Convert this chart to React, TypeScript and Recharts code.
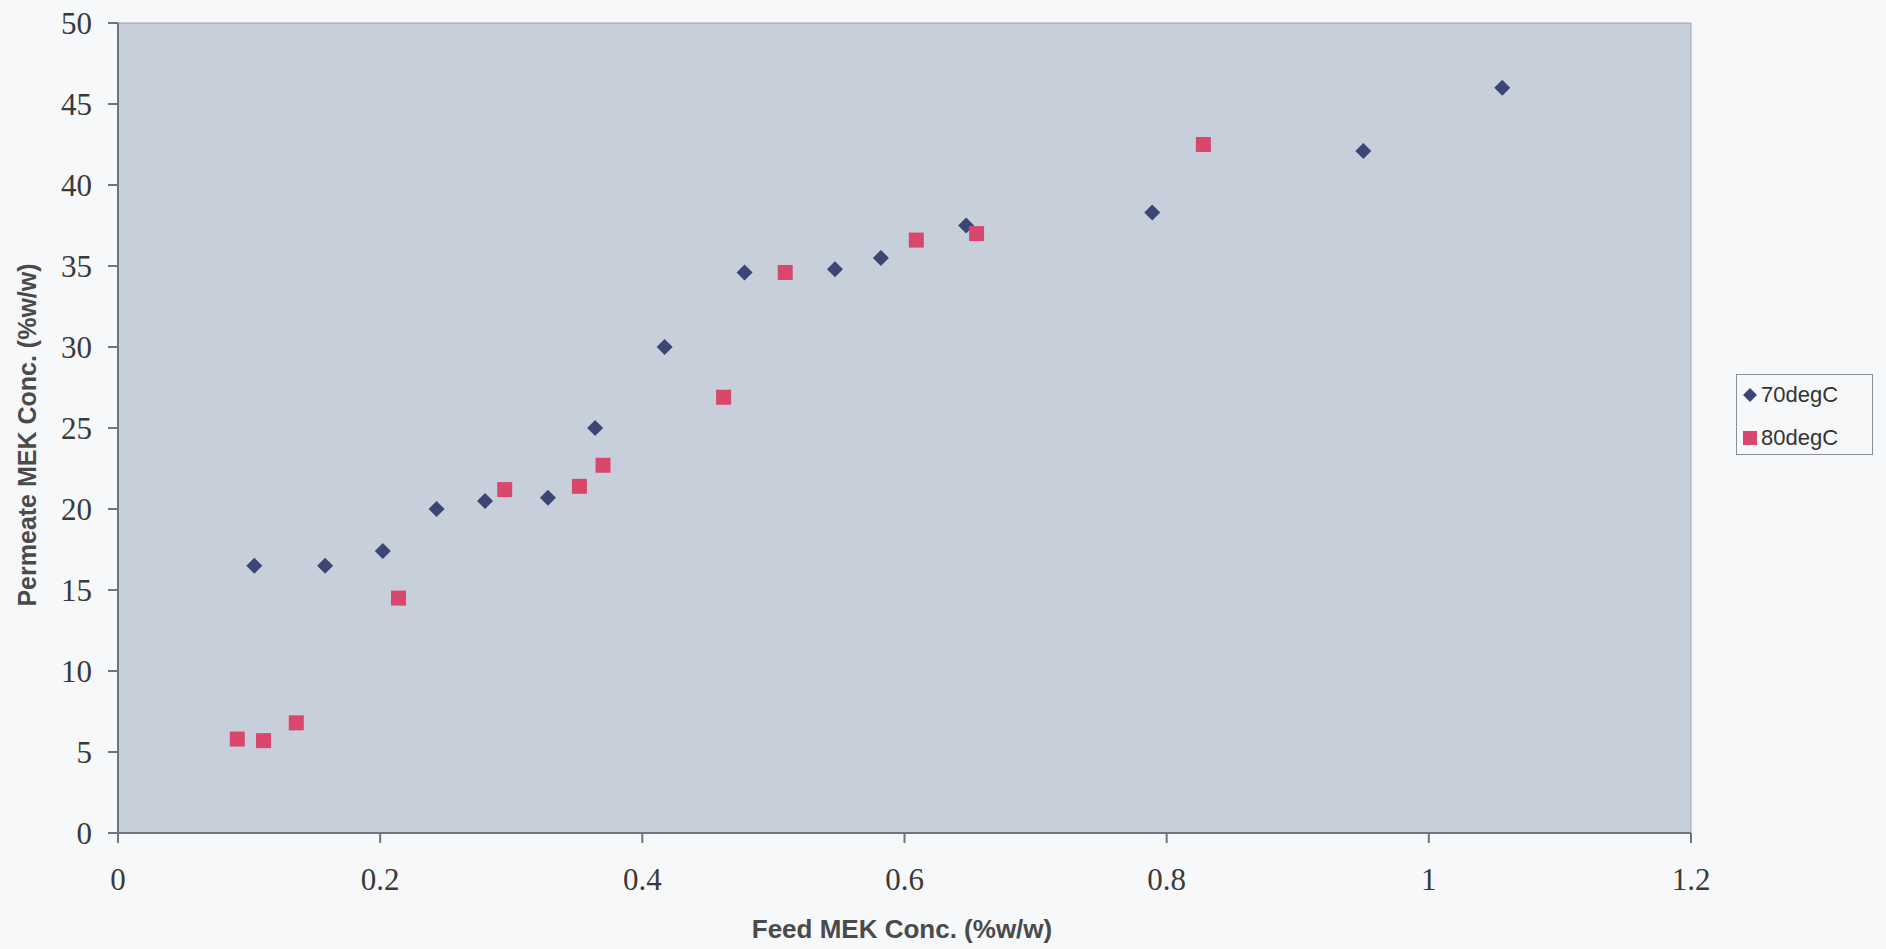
import React from "react";
import {
    ScatterChart,
    Scatter,
    XAxis,
    YAxis,
    ReferenceArea,
    Label,
} from "recharts";

// feed MEK conc (x) and permeate MEK conc (y)
const feed70 = [0.104, 0.158, 0.202, 0.243, 0.280, 0.328, 0.364, 0.417, 0.478, 0.547, 0.582, 0.647, 0.789, 0.950, 1.056];
const perm70 = [16.5, 16.5, 17.4, 20.0, 20.5, 20.7, 25.0, 30.0, 34.6, 34.8, 35.5, 37.5, 38.3, 42.1, 46.0];

const feed80 = [0.091, 0.111, 0.136, 0.214, 0.295, 0.352, 0.370, 0.462, 0.509, 0.609, 0.655, 0.828];
const perm80 = [5.8, 5.7, 6.8, 14.5, 21.2, 21.4, 22.7, 26.9, 34.6, 36.6, 37.0, 42.5];

const xTicks = [0, 0.2, 0.4, 0.6, 0.8, 1, 1.2];
const yTicks = [0, 5, 10, 15, 20, 25, 30, 35, 40, 45, 50];

const series70 = feed70.map((x, i) => ({ x, y: perm70[i] }));
const series80 = feed80.map((x, i) => ({ x, y: perm80[i] }));

const navy = "#3b4675";
const pink = "#da476c";
const sans = "'Liberation Sans', Arial, sans-serif";

const Diamond = (props: any) => {
    const { cx, cy } = props;
    const r = 8;
    return (
        <polygon
            points={`${cx},${cy - r} ${cx + r},${cy} ${cx},${cy + r} ${cx - r},${cy}`}
            fill={navy}
        />
    );
};

const Square = (props: any) => {
    const { cx, cy } = props;
    const s = 15;
    return <rect x={cx - s / 2} y={cy - s / 2} width={s} height={s} fill={pink} />;
};

const LegendBox = () => (
    <div
        style={{
            position: "absolute",
            left: 1736,
            top: 374,
            width: 135,
            height: 79,
            border: "1px solid #8a8e96",
            background: "#f6f8fa",
            fontFamily: sans,
            fontSize: 22,
            color: "#333",
        }}
    >
        <div style={{ display: "flex", alignItems: "center", height: 22, marginTop: 9 }}>
            <svg width={24} height={20}>
                <polygon points="13,3 20,10 13,17 6,10" fill={navy} />
            </svg>
            <span>70degC</span>
        </div>
        <div style={{ display: "flex", alignItems: "center", height: 22, marginTop: 21 }}>
            <svg width={24} height={20}>
                <rect x={6} y={3} width={14} height={14} fill={pink} />
            </svg>
            <span>80degC</span>
        </div>
    </div>
);

export default function App() {
    const tickStyle = { fill: "#3a3a3a", fontSize: 31, fontFamily: "'Liberation Serif', 'Times New Roman', serif" };
    return (
        <div style={{ position: "absolute", left: 0, top: 0, width: 1886, height: 949, background: "#f6f8fa" }}>
            <ScatterChart
                width={1886}
                height={949}
                margin={{ top: 23, right: 195, left: 0, bottom: 0 }}
            >
                <ReferenceArea
                    x1={0}
                    x2={1.2}
                    y1={0}
                    y2={50}
                    fill="#c7cfdb"
                    fillOpacity={1}
                    stroke="#9ea4ae"
                    strokeWidth={1}
                    ifOverflow="extendDomain"
                />
                <XAxis
                    type="number"
                    dataKey="x"
                    domain={[0, 1.2]}
                    ticks={xTicks}
                    height={116}
                    tickSize={10}
                    tickMargin={25}
                    stroke="#6f7580"
                    strokeWidth={2}
                    tick={tickStyle}
                >
                    <Label
                        content={() => (
                            <text x={902} y={938} textAnchor="middle" fontSize={26} fontWeight="bold" fill="#4a4a4a" fontFamily={sans}>
                                Feed MEK Conc. (%w/w)
                            </text>
                        )}
                    />
                </XAxis>
                <YAxis
                    type="number"
                    dataKey="y"
                    domain={[0, 50]}
                    ticks={yTicks}
                    width={118}
                    tickSize={10}
                    tickMargin={16}
                    stroke="#6f7580"
                    strokeWidth={2}
                    tick={tickStyle}
                >
                    <Label
                        content={() => (
                            <text
                                transform="translate(36,435) rotate(-90)"
                                textAnchor="middle"
                                fontSize={25}
                                fontWeight="bold"
                                fill="#4a4a4a"
                                fontFamily={sans}
                            >
                                Permeate MEK Conc. (%w/w)
                            </text>
                        )}
                    />
                </YAxis>
                <Scatter name="70degC" data={series70} shape={Diamond} isAnimationActive={false} />
                <Scatter name="80degC" data={series80} shape={Square} isAnimationActive={false} />
            </ScatterChart>
            <LegendBox />
        </div>
    );
}
